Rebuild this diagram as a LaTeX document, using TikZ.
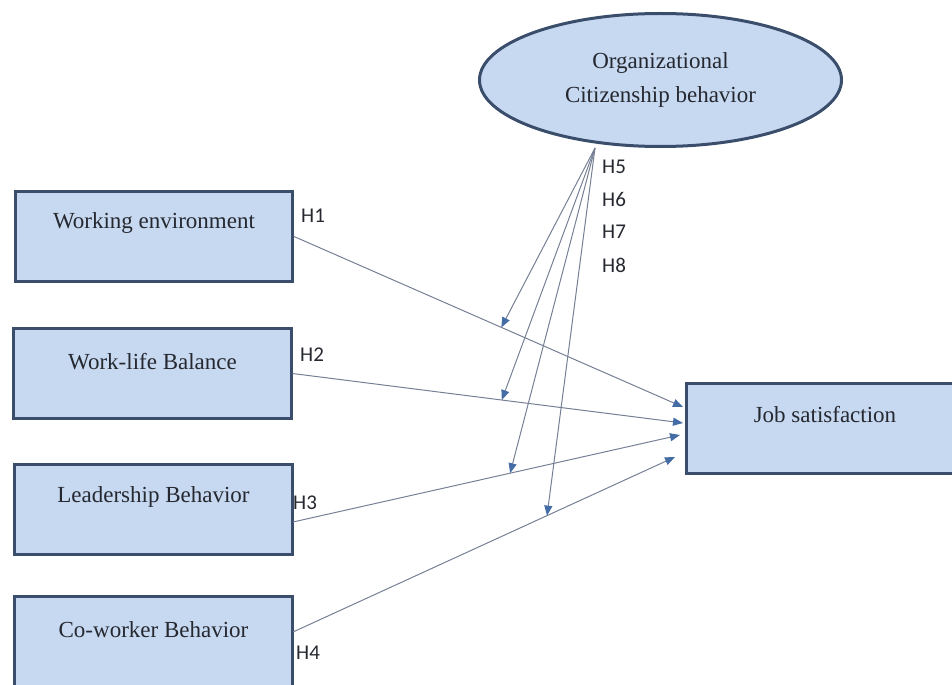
\documentclass[tikz,border=0pt]{standalone}
\usepackage{fontspec}
\setmainfont{Liberation Serif}
\newfontfamily\hfont{Carlito}
\usetikzlibrary{shapes.geometric,arrows.meta,calc}
\definecolor{boxfill}{RGB}{198,217,241}
\definecolor{boxline}{RGB}{58,78,108}
\definecolor{connc}{RGB}{118,128,148}
\definecolor{tipblue}{RGB}{68,108,165}
\definecolor{txt}{RGB}{38,40,48}
\begin{document}
\begin{tikzpicture}[x=1bp,y=-1bp,
  boxnode/.style={draw=boxline, line width=3bp, fill=boxfill, rectangle, minimum width=277bp, minimum height=90bp, inner sep=0pt},
  lbl/.style={font=\fontsize{23bp}{28bp}\selectfont, text=txt, inner sep=0pt},
  hlbl/.style={font=\hfont\fontsize{21bp}{24bp}\selectfont, text=txt, anchor=west, inner sep=0pt},
  conn/.style={draw=connc, line width=1bp, -{Triangle[length=10bp,width=8bp,color=tipblue]}}]
\useasboundingbox (0,0) rectangle (952,685);
\clip (0,0) rectangle (952,685);

% boxes
\node[boxnode] (b1) at (154,236.5) {};
\node[boxnode] (b2) at (152.5,373.5) {};
\node[boxnode] (b3) at (153.5,509.5) {};
\node[boxnode] (b4) at (153.5,641.5) {};
\node[boxnode] (js) at (825,428.5) {};

\node[lbl] (t1) at (154,223) {Working environment};
\node[lbl] (t2) at (152.5,362) {Work-life Balance};
\node[lbl] (t3) at (153.5,497) {Leadership Behavior};
\node[lbl] (t4) at (153.5,630) {Co-worker Behavior};
\node[lbl] (tj) at (825,415) {Job satisfaction};

% ellipse
\node[ellipse, draw=boxline, line width=3bp, fill=boxfill, minimum width=362bp, minimum height=133bp, inner sep=0pt,
      align=center, font=\fontsize{23bp}{34bp}\selectfont, text=txt] (ocb) at (660.5,80)
      {Organizational\\Citizenship behavior};

% end points
\coordinate (j1) at (683,407);
\coordinate (j2) at (683,423);
\coordinate (j3) at (680,435);
\coordinate (j4) at (675,457);
\coordinate (s3) at (293,522);
\coordinate (s4) at (293,632);
\coordinate (apex) at (595,148);

% direct paths
\draw[conn] (b1.east) -- coordinate[pos=0.533] (m5) (j1);
\draw[conn] (b2.east) -- coordinate[pos=0.536] (m6) (j2);
\draw[conn] (s3) -- coordinate[pos=0.561] (m7) (j3);
\draw[conn] (s4) -- coordinate[pos=0.665] (m8) (j4);

% moderation paths
\draw[conn] (apex) -- (m5);
\draw[conn] (apex) -- (m6);
\draw[conn] (apex) -- (m7);
\draw[conn] (apex) -- (m8);

% labels
\node[hlbl] (h1) at (301,216) {H1};
\node[hlbl] (h2) at (300,355) {H2};
\node[hlbl] (h3) at (293,503) {H3};
\node[hlbl] (h4) at (296,653) {H4};
\node[hlbl] (h5) at (602,167) {H5};
\node[hlbl] (h6) at (602,199) {H6};
\node[hlbl] (h7) at (602,232) {H7};
\node[hlbl] (h8) at (602,265) {H8};
\end{tikzpicture}
\end{document}
